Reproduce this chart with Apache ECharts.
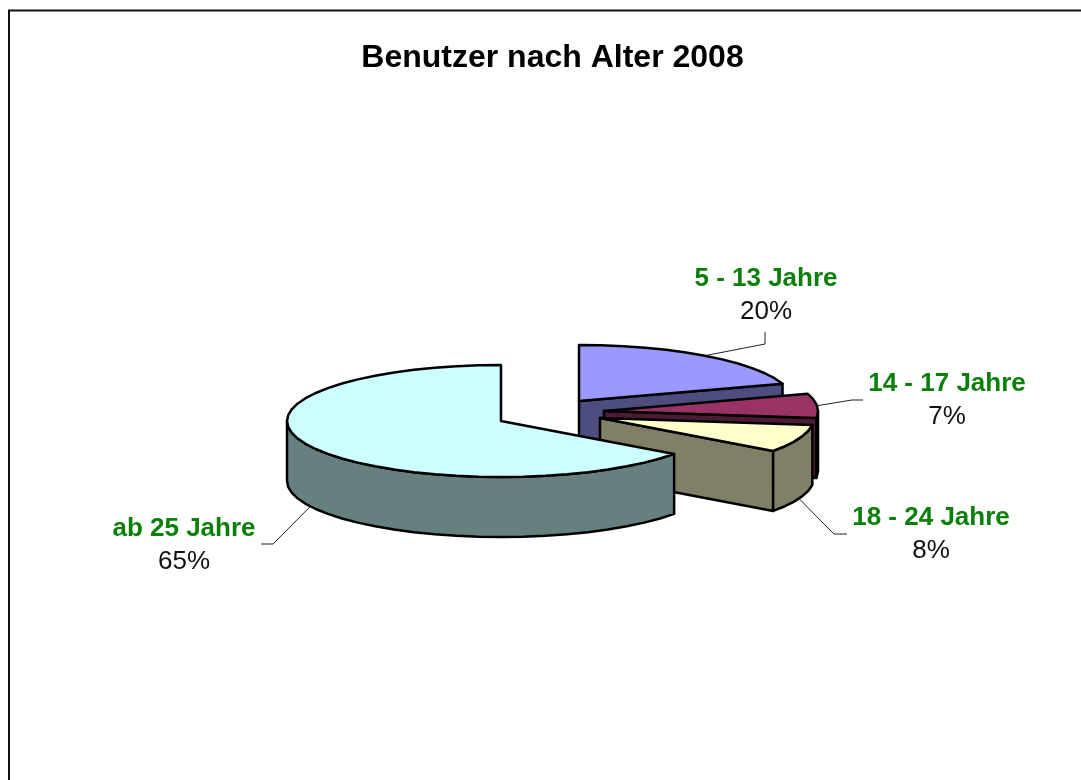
<!DOCTYPE html>
<html>
<head>
<meta charset="utf-8">
<title>Benutzer nach Alter 2008</title>
<style>
html,body{margin:0;padding:0;background:#fff;}
#main{width:1081px;height:780px;}
</style>
<script src="https://cdn.jsdelivr.net/npm/echarts@6/dist/echarts.min.js"></script>
</head>
<body>
<div id="main"></div>
<script>
var categories = ['5 - 13 Jahre', '14 - 17 Jahre', '18 - 24 Jahre', 'ab 25 Jahre'];
var shares = [20, 7, 8, 65];

var topColors = ['#9999ff', '#993366', '#ffffcc', '#ccffff'];
var sideColors = ['#4d4d80', '#4d1a33', '#808066', '#668080'];

// pie tip of every slice, the slices are pulled apart by hand
var tips = [[579, 401], [604, 411], [600, 418], [501, 421]];
var labelPos = [[766, 279], [947, 384], [931, 518], [184, 529]];
var percentGap = 33;
// leader line: knee and end, the start comes from the slice
var leaders = [
    [[765, 344], [765, 332]],
    [[852, 400], [863, 400]],
    [[834, 534], [847, 534]],
    [[273, 544], [261, 544]]
];

var rx = 214, ry = 56, depth = 60, step = 6;
var rad = Math.PI / 180;

function edge(tip, a, down) {
    return [tip[0] + rx * Math.sin(a * rad), tip[1] - ry * Math.cos(a * rad) + (down || 0)];
}

function arcPoints(tip, a1, a2, down) {
    var pts = [];
    for (var a = a1; a < a2; a += step) {
        pts.push(edge(tip, a, down));
    }
    pts.push(edge(tip, a2, down));
    return pts;
}

function poly(points, fill) {
    return {
        type: 'polygon',
        shape: { points: points },
        style: { fill: fill, stroke: '#000', lineWidth: 2.5, lineJoin: 'round' }
    };
}

function renderSlice(params, api) {
    var i = params.dataIndex;
    var total = shares.reduce(function (s, v) { return s + v; }, 0);
    var before = 0;
    for (var k = 0; k < i; k++) before += shares[k];
    var a1 = before / total * 360;
    var a2 = (before + api.value(1)) / total * 360;
    var mid = (a1 + a2) / 2;
    var tip = tips[i];
    var children = [];

    // cut face at the end of the slice
    if (Math.sin(a2 * rad) > 0) {
        var p = edge(tip, a2);
        children.push(poly([tip, p, [p[0], p[1] + depth], [tip[0], tip[1] + depth]], sideColors[i]));
    }
    // outer wall, front half only
    var from = Math.max(a1, 90), to = Math.min(a2, 270);
    if (from < to) {
        var wall = arcPoints(tip, from, to, 0).concat(arcPoints(tip, from, to, depth).reverse());
        children.push(poly(wall, sideColors[i]));
    }
    // top
    children.push(poly([tip].concat(arcPoints(tip, a1, a2, 0)), topColors[i]));

    // leader line
    var down = Math.cos(mid * rad) < 0 ? depth : 0;
    var start = edge(tip, mid, down);
    children.push({
        type: 'polyline',
        shape: { points: [start, leaders[i][0], leaders[i][1]] },
        style: { fill: null, stroke: '#222', lineWidth: 1 }
    });

    // labels
    children.push({
        type: 'text',
        style: {
            x: labelPos[i][0], y: labelPos[i][1],
            text: categories[i],
            align: 'center', verticalAlign: 'middle',
            font: 'bold 26px "Liberation Sans", Arial, sans-serif',
            fill: '#0a800a'
        }
    });
    children.push({
        type: 'text',
        style: {
            x: labelPos[i][0], y: labelPos[i][1] + percentGap,
            text: api.value(1) + '%',
            align: 'center', verticalAlign: 'middle',
            font: '26px "Liberation Sans", Arial, sans-serif',
            fill: '#111'
        }
    });

    return { type: 'group', children: children };
}

var myChart = echarts.init(document.getElementById('main'), null, { renderer: 'canvas' });

var option = {
    animation: false,
    backgroundColor: '#fff',
    title: {
        text: 'Benutzer nach Alter 2008',
        left: 547.5,
        top: 37,
        textAlign: 'center',
        textStyle: {
            fontFamily: '"Liberation Sans", Arial, sans-serif',
            fontSize: 32,
            fontWeight: 'bold',
            color: '#000'
        }
    },
    graphic: [
        {
            type: 'polyline',
            shape: { points: [[9, 780], [9, 10.5], [1081, 10.5]] },
            style: { fill: null, stroke: '#111', lineWidth: 2 }
        }
    ],
    series: [
        {
            type: 'custom',
            coordinateSystem: 'none',
            renderItem: renderSlice,
            data: shares.map(function (v, i) { return [i, v]; })
        }
    ]
};
myChart.setOption(option);
</script>
</body>
</html>
